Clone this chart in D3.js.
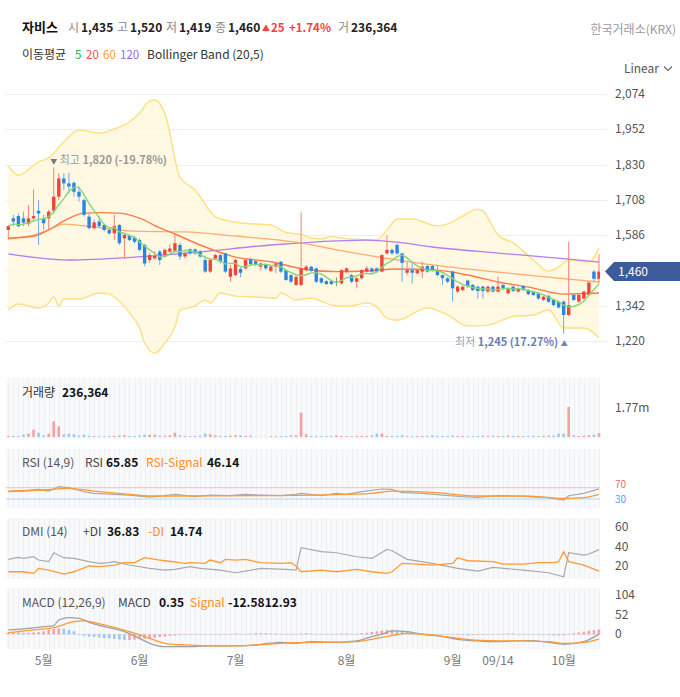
<!DOCTYPE html>
<html><head><meta charset="utf-8">
<script src="https://cdn.jsdelivr.net/npm/d3@7"></script>
<style>
body{margin:0;background:#fff;}
svg{display:block;font-family:"Noto Sans CJK KR","Noto Sans",sans-serif;}
</style></head><body>
<svg id="c" width="680" height="697"></svg>
<script>
// ---------- DATA ----------
const openP=[1604,1644,1652,1644,1625,1644,1670,1644,1644,1671,
1719,1782,1765,1767,1736,1707,1650,1610,1633,1621,
1604,1592,1621,1575,1583,1578,1569,1552,1500,1506,
1529,1517,1529,1532,1552,1512,1537,1537,1529,1500,
1460,1505,1517,1523,1442,1448,1469,1471,1502,1496,
1477,1483,1463,1477,1494,1465,1448,1414,1414,1465,
1477,1471,1437,1427,1427,1425,1419,1460,1448,1425,
1437,1460,1471,1471,1460,1523,1535,1552,1523,1456,
1465,1454,1460,1479,1479,1465,1448,1437,1460,1391,
1396,1429,1414,1408,1408,1391,1408,1391,1414,1385,
1408,1391,1410,1396,1391,1386,1362,1376,1362,1356,
1356,1310,1379,1356,1367,1379,1460,1435];
const highP=[1620,1656,1661,1667,1690,1744,1707,1656,1673,1820,
1800,1800,1802,1771,1754,1713,1660,1640,1650,1625,
1608,1656,1625,1590,1590,1583,1575,1556,1525,1530,
1535,1540,1555,1587,1560,1530,1540,1540,1535,1515,
1505,1522,1520,1525,1483,1505,1475,1505,1508,1500,
1492,1486,1480,1492,1497,1468,1450,1446,1664,1482,
1480,1474,1440,1430,1430,1440,1468,1475,1452,1440,
1468,1480,1474,1474,1520,1586,1540,1556,1525,1494,
1494,1470,1494,1483,1483,1483,1450,1440,1463,1412,
1412,1432,1417,1411,1411,1411,1411,1442,1417,1405,
1411,1405,1413,1399,1394,1389,1376,1379,1365,1359,
1360,1563,1382,1382,1394,1425,1465,1520];
const lowP=[1571,1617,1613,1617,1617,1633,1552,1604,1604,1660,
1707,1742,1730,1719,1702,1650,1605,1605,1610,1598,
1588,1569,1552,1505,1565,1558,1530,1478,1490,1500,
1483,1510,1525,1530,1500,1505,1518,1518,1508,1455,
1455,1500,1488,1455,1425,1445,1440,1468,1480,1478,
1465,1466,1458,1455,1455,1428,1420,1410,1410,1460,
1458,1420,1418,1414,1414,1410,1415,1455,1420,1402,
1432,1456,1456,1456,1458,1520,1518,1518,1425,1448,
1419,1450,1437,1456,1460,1444,1414,1420,1356,1386,
1392,1404,1392,1367,1367,1387,1387,1387,1398,1381,
1389,1387,1392,1378,1375,1362,1358,1352,1340,1332,
1245,1306,1358,1352,1363,1375,1425,1419];
const closeP=[1617,1633,1617,1629,1644,1652,1661,1627,1667,1719,
1782,1765,1754,1736,1719,1656,1610,1630,1617,1604,
1592,1617,1558,1587,1569,1563,1535,1488,1517,1514,
1500,1535,1540,1558,1512,1523,1523,1523,1512,1460,
1500,1517,1494,1460,1471,1500,1456,1500,1486,1483,
1488,1471,1477,1488,1460,1431,1425,1442,1471,1477,
1463,1425,1422,1417,1417,1425,1465,1471,1425,1437,
1465,1471,1460,1460,1517,1535,1523,1523,1490,1466,
1456,1465,1477,1460,1465,1448,1437,1425,1402,1408,
1408,1408,1396,1393,1393,1408,1391,1408,1402,1402,
1393,1402,1396,1382,1379,1367,1373,1356,1344,1336,
1310,1344,1362,1379,1391,1422,1435,1460];
// volume in thousands
const volume=[60,60,60,140,197,433,256,98,197,926,
630,158,197,158,80,138,80,50,50,50,
50,60,98,98,60,60,80,138,138,138,
80,80,98,256,98,60,50,60,80,197,
158,98,60,60,80,98,98,60,80,10,
10,10,50,50,60,60,98,98,1440,158,
60,60,50,50,60,98,60,50,50,60,
60,60,98,197,197,60,60,60,98,60,
50,60,60,60,98,60,60,60,80,60,
60,50,50,60,80,60,80,60,60,80,
60,60,60,60,80,60,60,80,80,197,
197,1770,98,60,80,98,140,236];
// indicator lines: [candle index, value]
const bbUpper=[[0,1825],[2,1794],[6,1839],[8,1853],[11,1908],[14,1950],[18,1939],[21,1953],[24,1977],[26,2008],[28,2050],[29,2053],[31,2008],[34,1787],[37,1742],[41,1650],[46,1628],[52,1621],[55,1595],[58,1588],[60,1576],[62,1573],[64,1581],[67,1573],[73,1569],[75,1604],[77,1642],[80,1642],[85,1618],[87,1625],[90,1652],[93,1676],[94,1670],[97,1586],[100,1559],[104,1500],[107,1462],[109,1476],[111,1500],[115,1493],[117,1541]];
const bbLower=[[0,1327],[2,1348],[6,1334],[8,1351],[9,1372],[10,1341],[11,1365],[14,1365],[18,1386],[20,1382],[21,1372],[24,1317],[26,1265],[27,1213],[29,1178],[31,1213],[33,1268],[34,1327],[37,1341],[39,1362],[40,1351],[42,1386],[45,1375],[49,1372],[53,1368],[54,1386],[57,1362],[60,1368],[64,1344],[67,1340],[71,1351],[73,1337],[75,1299],[77,1292],[83,1334],[87,1310],[91,1272],[95,1275],[100,1305],[104,1310],[107,1327],[110,1265],[114,1265],[117,1230]];
const ma20Line=[[0,1576],[5,1582],[8,1604],[11,1635],[15,1662],[18,1664],[22,1662],[26,1645],[30,1611],[33,1590],[38,1552],[45,1510],[52,1494],[58,1470],[65,1460],[71,1462],[77,1469],[85,1465],[91,1448],[97,1424],[104,1403],[110,1382],[117,1386]];
const ma60Line=[[0,1573],[5,1586],[8,1604],[11,1624],[15,1618],[25,1600],[35,1597],[45,1583],[55,1566],[58,1559],[65,1535],[71,1517],[84,1483],[97,1458],[111,1434],[117,1424]];
const ma120Line=[[0,1521],[12,1500],[25,1510],[38,1528],[52,1552],[58,1559],[65,1566],[71,1569],[77,1562],[84,1545],[97,1524],[111,1503],[117,1493]];
const rsiLine=[[0,55.9],[3,58.2],[6,64.1],[8,58.2],[10,73.6],[12,70],[15,55.9],[17,50],[21,46.5],[24,44],[28,37],[31,41.7],[33,46.5],[37,38.2],[40,44],[44,41.7],[47,46.5],[50,44],[54,41.7],[57,46.5],[58,50],[62,41.7],[65,50],[67,46.5],[70,55.9],[74,65.3],[76,64.1],[78,52.3],[82,50],[86,44],[90,38.2],[93,35.9],[97,41.7],[100,40.6],[103,38.2],[107,34.7],[110,26.4],[111,41.7],[114,50],[117,65.85]];
const rsiSignal=[[0,58.2],[7,61.8],[12,67.7],[17,58.2],[24,46.5],[28,40.6],[33,40.6],[50,41.7],[58,42.9],[67,46.5],[72,50],[76,58.2],[84,53.5],[93,40.6],[102,40.6],[110,32.3],[114,34.7],[117,46.14]];
const plusDI=[[0,26.8],[2,28.8],[3,27.8],[5,29.5],[6,26.1],[8,24.4],[9,33.6],[11,28.5],[13,27.8],[16,24.4],[18,22.7],[20,23.4],[21,24.4],[24,21],[28,17.5],[31,15.8],[33,16.5],[36,19.3],[38,17.5],[42,15.8],[45,13.1],[47,14.8],[50,17.5],[55,16.5],[57,15.8],[58,38.8],[62,34.7],[65,33.6],[69,29.5],[72,27.8],[75,37],[76,35.7],[79,26.8],[84,22.7],[89,17.5],[93,14.8],[96,18.5],[102,15.8],[107,13.1],[110,9],[111,33.6],[114,31.2],[115,32.3],[117,36.83]];
const minusDI=[[0,14.1],[3,14.1],[5,12.4],[6,17.5],[8,15.8],[11,11.7],[13,14.1],[16,20],[18,19.3],[21,21],[23,23.4],[25,23.4],[27,28.5],[30,26.1],[31,25.4],[34,23.4],[35,22.7],[36,23.4],[39,22.7],[40,26.1],[42,23.4],[43,26.8],[45,26.1],[47,26.8],[49,24.4],[50,23.4],[54,22.7],[56,23.4],[57,20],[58,14.1],[62,15.8],[65,14.1],[69,16.5],[72,14.1],[75,12.4],[76,14.1],[78,22.7],[81,22],[84,21],[88,22.7],[89,28.5],[91,25.4],[96,24.4],[98,22],[102,22],[105,23.4],[108,23.4],[109,24.4],[110,34.7],[111,24.4],[114,21],[117,14.74]];
const macdLine=[[0,11.6],[3,14.2],[7,20.4],[9,23.1],[10,38.2],[12,44.5],[14,42.7],[16,32],[19,20.4],[23,7.1],[26,-10.7],[28,-24],[31,-32.9],[35,-32.9],[40,-31.1],[43,-31.1],[47,-30.2],[50,-26.7],[54,-21.3],[57,-24],[60,-19.6],[65,-21.3],[69,-17.8],[72,-6.2],[74,0],[76,8.9],[79,7.1],[82,0],[86,-6.2],[89,-13.3],[93,-17.8],[96,-19.6],[100,-17.8],[103,-16.9],[107,-21.3],[110,-26.7],[114,-19.6],[117,0.35]];
const macdSignal=[[0,4.4],[5,11.6],[9,17.8],[13,33.8],[15,35.6],[19,24.9],[24,7.1],[28,-10.7],[31,-24],[35,-28.4],[42,-31.1],[47,-30.2],[54,-24],[58,-22.2],[63,-21.3],[69,-19.6],[72,-13.3],[76,-3.6],[79,2.7],[84,-1.8],[89,-10.7],[95,-16.9],[102,-17.8],[107,-19.6],[110,-24],[114,-21.3],[117,-12.58]];
const macdHist=[4,5,5,4,4,5,6,8,12,14,16,15,12,8,
-2,-4,-6,-7,-8,-10,-11,-12,-14,-15,-15,-14,-13,
-12,-10,-9,-7,-6,-4,-3,-2,
-1,-1,0,1,-1,0,1,0,-1,1,2,1,0,
2,3,3,3,2,2,-1,1,1,0,
2,3,2,1,0,1,0,1,
2,2,1,1,
3,4,6,8,10,12,12,10,8,
6,4,3,2,1,0,0,-1,-1,
-2,-2,-2,-3,-2,-2,-1,-1,0,0,
1,2,2,1,0,0,-1,-1,-2,-2,-3,-3,
-3,1,3,5,7,9,11,12.93];
const priceTicks=[2074,1952,1830,1708,1586,1464,1342,1220];
const tickIdx=[7,26,45,67,88,97,110];
const tickLabels=['5월','6월','7월','8월','9월','09/14','10월'];

// ---------- DRAW ----------
const svg=d3.select('#c');
const N=closeP.length;
const PL=6, PR=600;
const x=d3.scaleLinear().domain([0,N-1]).range([8.3,599]);
const UP='#f0443a', DN='#2a84e0', UPW='#f3817b', DNW='#6fa9ea';

function T(xx,yy,s,o={}){
  const t=svg.append('text').attr('x',xx).attr('y',yy).text(s)
    .attr('font-size',o.size||12).attr('fill',o.fill||'#333');
  if(o.bold) t.attr('font-weight','bold');
  if(o.anchor) t.attr('text-anchor',o.anchor);
  return t;
}
// header
T(22,32,'자비스',{size:13,bold:true,fill:'#111'});
const hdr=[['시',68,'1,435',81],['고',117,'1,520',130],['저',166,'1,419',179],['종',215,'1,460',228]];
hdr.forEach(h=>{T(h[1],32,h[0],{fill:'#8a8a8a'});T(h[3],32,h[2],{bold:true,fill:'#222'});});
T(262,31,'▲',{size:8,fill:UP});
T(271,32,'25',{bold:true,fill:UP,size:11.5});
T(289,32,'+1.74%',{bold:true,fill:UP,size:11.5});
T(338,32,'거',{fill:'#8a8a8a'});
T(351,32,'236,364',{bold:true,fill:'#222'});
T(676,34,'한국거래소(KRX)',{anchor:'end',fill:'#9a9a9a'});
T(22,59,'이동평균',{fill:'#333'});
T(75,59,'5',{fill:'#22b14c',size:11.5});
T(86,59,'20',{fill:'#ff4d4d',size:11.5});
T(103,59,'60',{fill:'#ff9933',size:11.5});
T(120,59,'120',{fill:'#9d66f0',size:11.5});
T(147,59,'Bollinger Band (20,5)',{fill:'#333'});
T(659,73,'Linear',{fill:'#555',anchor:'end'});
svg.append('path').attr('d','M664,66.5 L668,70.5 L672,66.5').attr('fill','none').attr('stroke','#666').attr('stroke-width',1.1);

// main panel
const y=d3.scaleLinear().domain([1220,2074]).range([341,94]);
svg.append('clipPath').attr('id','mc').append('rect').attr('x',PL).attr('y',86).attr('width',PR-PL).attr('height',286);
svg.selectAll('.pg').data(priceTicks).enter().append('line')
  .attr('x1',PL).attr('x2',607).attr('y1',d=>Math.round(y(d))+0.5).attr('y2',d=>Math.round(y(d))+0.5)
  .attr('stroke','#eeeeee');
priceTicks.filter(d=>d!==1464).forEach(d=>{
  T(615,y(d)+4,d3.format(',')(d),{fill:'#555'});
});
const main=svg.append('g').attr('clip-path','url(#mc)');
const lineP=d3.line().x(d=>x(d[0])).y(d=>y(d[1])).curve(d3.curveMonotoneX);
const upPath=lineP(bbUpper);
const loRev=lineP(bbLower.slice().reverse());
main.append('path').attr('d',upPath+loRev.replace(/^M/,'L')+'Z').attr('fill','#fff6d9').attr('fill-opacity',0.75);
main.append('path').attr('d',upPath).attr('fill','none').attr('stroke','#ffe07e').attr('stroke-width',1.4);
main.append('path').attr('d',lineP(bbLower)).attr('fill','none').attr('stroke','#ffe07e').attr('stroke-width',1.4);
main.append('path').attr('d',lineP(ma120Line)).attr('fill','none').attr('stroke','#b27ef2').attr('stroke-width',1.3);
main.append('path').attr('d',lineP(ma60Line)).attr('fill','none').attr('stroke','#ffab6e').attr('stroke-width',1.3);
main.append('path').attr('d',lineP(ma20Line)).attr('fill','none').attr('stroke','#ff7a45').attr('stroke-width',1.4);
// candles
const idx=d3.range(N);
const col=i=>closeP[i]>openP[i]?UP:(closeP[i]<openP[i]?DN:'#7f7f68');
const wcol=i=>closeP[i]>openP[i]?UPW:(closeP[i]<openP[i]?DNW:'#8a8a74');
main.selectAll('.wk').data(idx).enter().append('line')
  .attr('x1',i=>x(i)).attr('x2',i=>x(i)).attr('y1',i=>y(highP[i])).attr('y2',i=>y(lowP[i]))
  .attr('stroke',wcol).attr('stroke-width',1);
main.selectAll('.bd').data(idx).enter().append('rect')
  .attr('x',i=>x(i)-1.7).attr('width',3.4)
  .attr('y',i=>y(Math.max(openP[i],closeP[i])))
  .attr('height',i=>Math.max(1.2,Math.abs(y(openP[i])-y(closeP[i]))))
  .attr('fill',col);
// MA5
const ma5=closeP.map((c,i)=>d3.mean(closeP.slice(Math.max(0,i-4),i+1)));
main.append('path').attr('d',d3.line().x((d,i)=>x(i)).y(d=>y(d))(ma5)).attr('fill','none').attr('stroke','#86d676').attr('stroke-width',1.4);
// markers
const hi=svg.append('text').attr('x',x(9)-3.5).attr('y',164).attr('font-size',11).attr('fill','#999');
hi.append('tspan').text('▼').attr('font-size',7).attr('fill','#777');
hi.append('tspan').text(' 최고 ');
hi.append('tspan').text('1,820 (-19.78%)').attr('font-weight','bold');
const lo=svg.append('text').attr('x',x(110)+4).attr('y',346).attr('font-size',11).attr('text-anchor','end').attr('fill','#6b80b3');
lo.append('tspan').text('최저 ').attr('fill','#8fa2cc');
lo.append('tspan').text('1,245 (17.27%) ').attr('font-weight','bold');
lo.append('tspan').text('▲').attr('font-size',7);
// price tag
const py=y(1460);
svg.append('path').attr('d',`M605,${py} L614,${py-9.5} L680,${py-9.5} L680,${py+9.5} L614,${py+9.5} Z`).attr('fill','#3e5b99');
T(618,py+4.5,'1,460',{fill:'#fff'});

// sub panels
function panel(top,bot){
  svg.append('rect').attr('x',PL).attr('y',top).attr('width',PR-PL).attr('height',bot-top).attr('fill','#f8f9fb');
  svg.append('g').selectAll('line').data(idx).enter().append('line')
    .attr('x1',i=>Math.round(x(i))+0.5).attr('x2',i=>Math.round(x(i))+0.5).attr('y1',top).attr('y2',bot)
    .attr('stroke','#eef0f5').attr('stroke-width',1);
}
function lbl(yy,parts){
  parts.forEach(p=>{const t=T(p[2],yy,p[0],{fill:p[1]}); if(p[3]) t.attr('font-weight','bold');});
}
// volume
panel(378,439);
const yv=d3.scaleLinear().domain([0,1770]).range([437,407]);
svg.selectAll('.vb').data(idx).enter().append('rect')
  .attr('x',i=>x(i)-1.3).attr('width',2.6).attr('y',i=>yv(volume[i])).attr('height',i=>437-yv(volume[i]))
  .attr('fill',i=>closeP[i]>=openP[i]?'#f3a2a2':'#9dc8f3');
lbl(397,[['거래량','#333',22],['236,364','#111',62,true]]);
T(615,412,'1.77m',{fill:'#555'});

// RSI
panel(449,508);
const yr=d3.scaleLinear().domain([0,100]).range([507.5,479.2]);
svg.append('line').attr('x1',PL).attr('x2',PR).attr('y1',yr(70)).attr('y2',yr(70)).attr('stroke','#f7c0c0');
svg.append('line').attr('x1',PL).attr('x2',PR).attr('y1',yr(30)).attr('y2',yr(30)).attr('stroke','#b5d6f7');
const lr=d3.line().x(d=>x(d[0])).y(d=>yr(d[1]));
svg.append('path').attr('d',lr(rsiLine)).attr('fill','none').attr('stroke','#a9a9a9').attr('stroke-width',1.2);
svg.append('path').attr('d',lr.curve(d3.curveMonotoneX)(rsiSignal)).attr('fill','none').attr('stroke','#ff9a33').attr('stroke-width',1.3);
lbl(467,[['RSI (14,9)','#555',22],['RSI','#444',85],['65.85','#111',106,true],['RSI-Signal','#ff8c1a',146],['46.14','#111',207,true]]);
T(615,487.5,'70',{fill:'#f06a6a',size:10});
T(615,502.5,'30',{fill:'#4a9ff0',size:10});

// DMI
panel(518,579);
const yd=d3.scaleLinear().domain([0,60]).range([585.5,527]);
const ld=d3.line().x(d=>x(d[0])).y(d=>yd(d[1]));
svg.append('path').attr('d',ld(plusDI)).attr('fill','none').attr('stroke','#a9a9a9').attr('stroke-width',1.2);
svg.append('path').attr('d',ld(minusDI)).attr('fill','none').attr('stroke','#ff9a33').attr('stroke-width',1.3);
lbl(536,[['DMI (14)','#555',22],['+DI','#444',83],['36.83','#111',107,true],['-DI','#ff8c1a',148],['14.74','#111',170,true]]);
[60,40,20].forEach(v=>T(615,yd(v)+4,String(v),{fill:'#555'}));

// MACD
panel(588,649);
const ym=d3.scaleLinear().domain([0,104]).range([634.3,595.3]);
svg.append('line').attr('x1',PL).attr('x2',PR).attr('y1',ym(0)).attr('y2',ym(0)).attr('stroke','#dfe3ea');
svg.selectAll('.mh').data(idx).enter().append('rect')
  .attr('x',i=>x(i)-1.3).attr('width',2.6)
  .attr('y',i=>Math.min(ym(0),ym(macdHist[i]))).attr('height',i=>Math.max(0.5,Math.abs(ym(macdHist[i])-ym(0))))
  .attr('fill',i=>(i===0||macdHist[i]>=macdHist[i-1])?'#f5a3aa':'#9cc7f4');
const lm=d3.line().x(d=>x(d[0])).y(d=>ym(d[1])).curve(d3.curveMonotoneX);
svg.append('path').attr('d',lm(macdLine)).attr('fill','none').attr('stroke','#a0a0a0').attr('stroke-width',1.3);
svg.append('path').attr('d',lm(macdSignal)).attr('fill','none').attr('stroke','#ff9a33').attr('stroke-width',1.3);
lbl(607,[['MACD (12,26,9)','#555',22],['MACD','#444',118],['0.35','#111',159,true],['Signal','#ff8c1a',190],['-12.5812.93','#111',228,true]]);
[104,52,0].forEach(v=>T(615,ym(v)+4,String(v),{fill:'#555'}));

// x axis labels
tickIdx.forEach((ti,k)=>T(x(ti),665,tickLabels[k],{anchor:'middle',fill:'#777'}));
</script>
</body></html>
